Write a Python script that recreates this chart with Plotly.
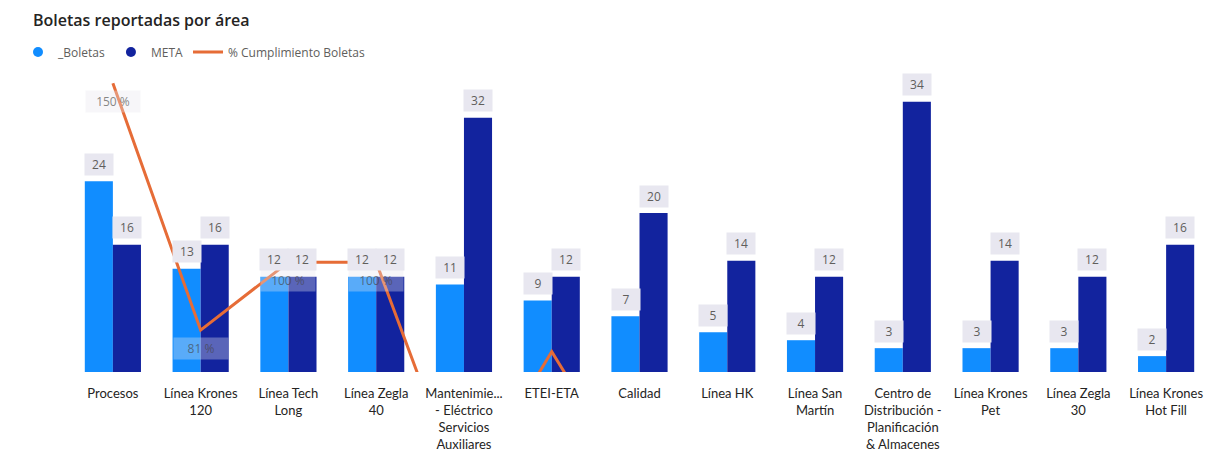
import plotly.graph_objects as go

categories = ["Procesos", "Línea Krones 120", "Línea Tech Long", "Línea Zegla 40",
              "Mantenimiento - Eléctrico Servicios Auxiliares", "ETEI-ETA", "Calidad",
              "Línea HK", "Línea San Martín",
              "Centro de Distribución - Planificación & Almacenes",
              "Línea Krones Pet", "Línea Zegla 30", "Línea Krones Hot Fill"]
tick_labels = ["Procesos", "Línea Krones<br>120", "Línea Tech<br>Long", "Línea Zegla<br>40",
               "Mantenimie...<br>- Eléctrico<br>Servicios<br>Auxiliares", "ETEI-ETA", "Calidad",
               "Línea HK", "Línea San<br>Martín",
               "Centro de<br>Distribución -<br>Planificación<br>& Almacenes",
               "Línea Krones<br>Pet", "Línea Zegla<br>30", "Línea Krones<br>Hot Fill"]
boletas = [24, 13, 12, 12, 11, 9, 7, 5, 4, 3, 3, 3, 2]
meta = [16, 16, 12, 12, 32, 12, 20, 14, 12, 34, 14, 12, 16]
cumplimiento = [150, 81, 100, 100, 34, 75, 35, 36, 33, 9, 21, 25, 13]

C_BOL = "#118DFF"
C_META = "#12239E"
C_LINE = "#E66C37"
FONT = "Open Sans"

Y1_RANGE = [0, 38.0]
Y2_RANGE = [69.3, 153.7]

fig = go.Figure()
fig.add_trace(go.Bar(x=categories, y=boletas, name="_Boletas", marker_color=C_BOL,
                     marker_line_width=0, showlegend=False, hoverinfo="skip"))
fig.add_trace(go.Bar(x=categories, y=meta, name="META", marker_color=C_META,
                     marker_line_width=0, showlegend=False, hoverinfo="skip"))
fig.add_trace(go.Scatter(x=categories, y=cumplimiento, yaxis="y2", mode="lines",
                         line=dict(color=C_LINE, width=3), showlegend=False,
                         hoverinfo="skip"))

# legend entries
fig.add_trace(go.Scatter(x=[None], y=[None], mode="markers", name="_Boletas",
                         marker=dict(color=C_BOL, size=10, symbol="circle")))
fig.add_trace(go.Scatter(x=[None], y=[None], mode="markers", name="META",
                         marker=dict(color=C_META, size=10, symbol="circle")))
fig.add_trace(go.Scatter(x=[None], y=[None], mode="lines", name="% Cumplimiento Boletas",
                         line=dict(color=C_LINE, width=3)))

annotations = []
lab_font = dict(family=FONT, size=12, color="#605E5C")
for c, b, m in zip(categories, boletas, meta):
    annotations.append(dict(x=c, y=b, xref="x", yref="y", text=str(b), showarrow=False,
                            xshift=-14, yshift=17, bgcolor="#E8E7F0", borderpad=2,
                            width=24, font=lab_font))
    annotations.append(dict(x=c, y=m, xref="x", yref="y", text=str(m), showarrow=False,
                            xshift=14, yshift=17, bgcolor="#E8E7F0", borderpad=2,
                            width=24, font=lab_font))
for c, p in zip(categories, cumplimiento):
    if Y2_RANGE[0] + 8 <= p <= Y2_RANGE[1]:
        shift = -18 if p >= 80 else 17
        annotations.append(dict(x=c, y=p, xref="x", yref="y2", text=f"{p} %", showarrow=False,
                                yshift=shift, bgcolor="rgba(232,231,240,0.45)", borderpad=2,
                                width=50, opacity=0.75, font=lab_font))

fig.update_layout(
    width=1210, height=454,
    margin=dict(l=69, r=0, t=70, b=82),
    paper_bgcolor="white", plot_bgcolor="white",
    barmode="group", bargap=0.36, bargroupgap=0,
    font=dict(family=FONT, size=12, color="#252423"),
    title=dict(text="Boletas reportadas por área", x=33 / 1210, xanchor="left",
               y=1 - 20 / 454, yanchor="middle", xref="container", yref="container",
               font=dict(family=FONT, size=16, color="#252423", weight=600)),
    legend=dict(orientation="h", x=(18 - 69) / 1141, xanchor="left",
                y=(372 - 52) / 302, yanchor="middle",
                font=dict(family=FONT, size=12, color="#605E5C"),
                itemwidth=30, tracegroupgap=0, bgcolor="rgba(0,0,0,0)"),
    xaxis=dict(tickmode="array", tickvals=categories, ticktext=tick_labels,
               showgrid=False, showline=False, zeroline=False, ticks="",
               ticklabelstandoff=12,
               tickfont=dict(family="Lato", size=13, color="#252423")),
    yaxis=dict(range=Y1_RANGE, showgrid=False, showticklabels=False, zeroline=False,
               showline=False),
    yaxis2=dict(range=Y2_RANGE, overlaying="y", side="right", showgrid=False,
                showticklabels=False, zeroline=False, showline=False),
    annotations=annotations,
)

fig.write_html("out.html")
